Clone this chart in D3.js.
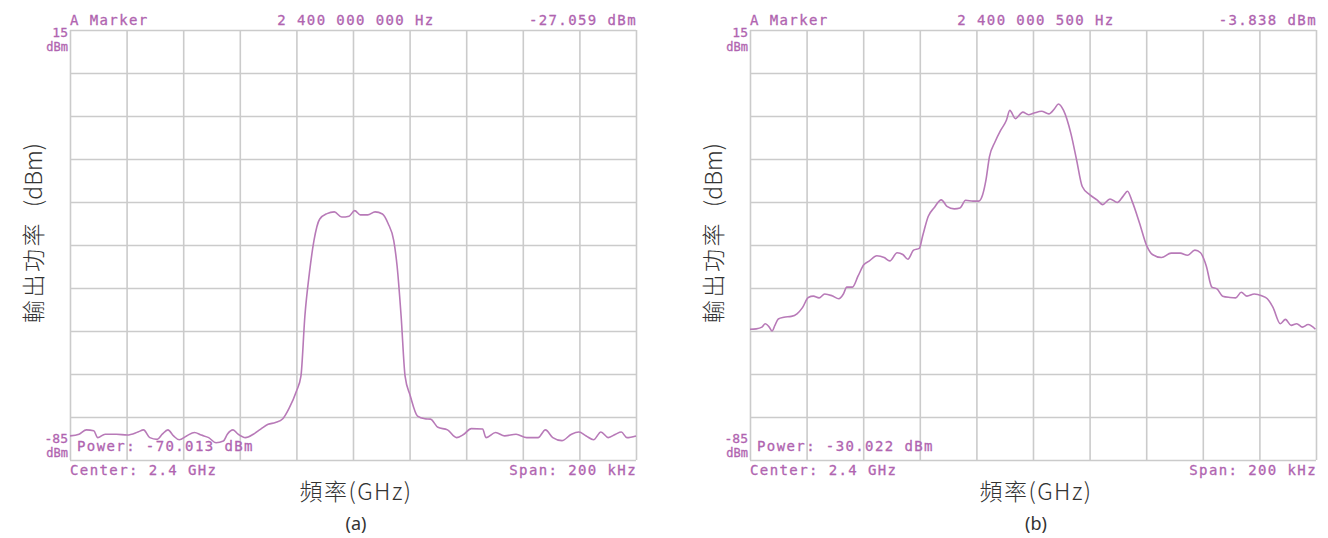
<!DOCTYPE html>
<html><head><meta charset="utf-8">
<script src="https://cdn.jsdelivr.net/npm/d3@7"></script>
<style>
html,body{margin:0;padding:0;background:#fff;}
svg{display:block;}
</style></head>
<body>
<svg id="chart" width="1328" height="538"></svg>
<script>
// ---- Data (frequency offset from 2.4 GHz in kHz, power in dBm) ----
const freqA = [-100,-96.8,-94.2,-91.6,-90.2,-87.6,-83.6,-79.8,-76,-74,-71.8,-69.2,-67.4,-65.4,-63.4,-61.4,-58.8,-56,-53.6,-51,-48.4,-45.8,-44.4,-42.4,-40.6,-38,-35.2,-32.6,-30,-27.4,-24.8,-22.6,-20,-18.4,-17,-15.4,-13.8,-11.8,-9.2,-6.6,-4,-1.4,0.6,2.6,5.2,7.8,10.4,12.4,14.4,15.6,17,18.4,20.2,22.8,25.4,27.4,30,33.4,36.6,39.2,41.8,45.8,47,50.4,53.6,57.6,61.4,65.4,68,70.6,73.8,77.2,79.8,82.4,85,87.6,90.2,92.8,94.8,96.8,100];
const powerA = [-79.4,-79,-78,-78.2,-79.8,-79,-79,-79.2,-78.5,-78,-79.8,-80.2,-79,-78,-79.4,-80.3,-79.4,-78.6,-79.2,-79.8,-81,-80.6,-79,-78,-79,-79.8,-79,-77.8,-76.7,-76.3,-75.4,-73,-69,-65.5,-51.5,-41.5,-34,-29,-27.7,-27.3,-28.5,-28.3,-27,-28,-28,-27.3,-27.8,-30,-34,-40,-51.5,-65.5,-70,-74.8,-75.4,-75.5,-77.4,-78,-79.8,-79,-77.7,-77.8,-79.8,-78.6,-79.4,-79,-79.8,-79.8,-78,-79.8,-80.5,-79,-78.5,-79.4,-80.3,-78.5,-79.8,-79,-78.5,-79.8,-79.4];

const freqB = [-100,-97.8,-95.8,-94.6,-93.2,-92.2,-91.2,-90,-88,-85.4,-83.4,-81.4,-79.4,-77.6,-75.6,-73.6,-71,-68.6,-67,-65.8,-63.8,-61.8,-59.8,-57.8,-55.2,-52.6,-50.6,-48,-46,-44.2,-42.2,-40.2,-39,-37,-35,-32.4,-30.4,-27.8,-25.8,-23.8,-21.2,-19.2,-17.8,-16.6,-15.4,-13.4,-11.4,-9.4,-8.2,-6.2,-3.6,-1.6,0.4,3,5.6,7.6,9,10.8,13.4,15.4,17.4,20,22.6,24.6,27.2,29.8,31.8,33.4,35,37.6,40.2,42.2,45.4,48.8,52,54.6,57.2,59.2,61.2,63.2,65,67,69.6,71.6,73.6,75.6,78.2,80.8,82.8,84.8,87.4,89.2,91.2,93.2,95.2,97.2,99.8];
const powerB = [-54.6,-54.5,-54.1,-53.3,-54.1,-55,-53.7,-52.2,-51.8,-51.6,-51,-49.5,-47.2,-46.9,-47.3,-46.4,-46.8,-47.5,-46.4,-44.8,-44.8,-42.2,-39.6,-38.7,-37.5,-37.9,-38.7,-36.8,-37.2,-38.3,-36.2,-35.8,-32.9,-28.3,-26.4,-24.5,-26,-26.6,-26.4,-24.6,-24.8,-24.8,-23.3,-19.8,-14.5,-11,-8.3,-6,-3.7,-5.6,-4.1,-4.7,-4.3,-3.9,-4.5,-3.3,-2.2,-3.7,-9.1,-15.2,-21.4,-23.3,-24.5,-25.6,-24.3,-25.1,-23.7,-22.5,-24.8,-29.8,-35.2,-37.2,-37.9,-36.9,-36.9,-37.4,-36.2,-36.8,-39.8,-44.8,-45.2,-46.9,-47.2,-47.3,-46,-46.9,-46.4,-46.8,-47.5,-49.5,-53.3,-52.3,-53.7,-53.3,-54.1,-53.5,-54.6];

const xTicks = [-100,-80,-60,-40,-20,0,20,40,60,80,100];
const yTicks = [15,5,-5,-15,-25,-35,-45,-55,-65,-75,-85];

const panels = [
  {left:70, freq:freqA, power:powerA, markerFreq:"2 400 000 000 Hz", markerVal:"-27.059 dBm", powerText:"Power: -70.013 dBm", label:"(a)"},
  {left:750, freq:freqB, power:powerB, markerFreq:"2 400 000 500 Hz", markerVal:"-3.838 dBm", powerText:"Power: -30.022 dBm", label:"(b)"}
];

const svg = d3.select("#chart");
const W = 566, plotTop = 30, plotBottom = 460;
const instColor = "#b064b0", traceColor = "#b87ab8", gridColor = "#cbcbcb";
const mono = "'DejaVu Sans Mono', monospace";
const cjk = "'Noto Sans CJK TC','Noto Sans CJK SC',sans-serif";

panels.forEach(p => {
  const x = d3.scaleLinear().domain([-100,100]).range([p.left, p.left + W]);
  const y = d3.scaleLinear().domain([-85,15]).range([plotBottom, plotTop]);
  const g = svg.append("g");

  g.append("g").attr("transform",`translate(0,${plotBottom})`)
    .call(d3.axisBottom(x).tickValues(xTicks).tickSize(-(plotBottom-plotTop)).tickFormat(""))
    .call(s => { s.select(".domain").remove(); s.selectAll("line").attr("stroke",gridColor).attr("stroke-width",1.6); });
  g.append("g").attr("transform",`translate(${p.left},0)`)
    .call(d3.axisLeft(y).tickValues(yTicks).tickSize(-W).tickFormat(""))
    .call(s => { s.select(".domain").remove(); s.selectAll("line").attr("stroke",gridColor).attr("stroke-width",1.6); });

  const data = p.freq.map((f,i)=>[f,p.power[i]]);
  g.append("path").datum(data)
    .attr("fill","none").attr("stroke",traceColor).attr("stroke-width",1.6)
    .attr("stroke-linejoin","round")
    .attr("d", d3.line().curve(d3.curveMonotoneX).x(d=>x(d[0])).y(d=>y(d[1])));

  const t = (txt, tx, ty, anchor, size, ls) => g.append("text")
    .attr("x",tx).attr("y",ty).attr("text-anchor",anchor)
    .attr("font-family",mono).attr("font-size",size||14)
    .attr("letter-spacing", ls===undefined ? 1.4 : ls)
    .attr("fill",instColor).attr("stroke",instColor).attr("stroke-width",0.3)
    .text(txt);

  const L = p.left, R = p.left + W, C = p.left + W/2;
  t("A Marker", L, 25, "start");
  t(p.markerFreq, C + 3, 25, "middle");
  t(p.markerVal, R + 1, 25, "end");
  t("15", L - 2, 37, "end", 13, 0);
  t("dBm", L - 2, 51, "end", 12, 0);
  t("-85", L - 2, 443, "end", 13, 0);
  t("dBm", L - 2, 457, "end", 12, 0);
  t(p.powerText, L + 7, 451, "start");
  t("Center: 2.4 GHz", L, 475, "start");
  t("Span: 200 kHz", R + 1, 475, "end");

  g.append("text").attr("x",C+3).attr("y",500).attr("text-anchor","middle")
    .attr("font-family",cjk).attr("font-size",23).attr("font-weight",300)
    .attr("letter-spacing",1.5).attr("fill","#333").text("頻率(GHz)");
  g.append("text").attr("x",C+3).attr("y",530).attr("text-anchor","middle")
    .attr("font-family","'Noto Sans',sans-serif").attr("font-size",18).attr("fill","#333").text(p.label);
  const yt = g.append("text").attr("transform",`translate(${L-38},233) rotate(-90)`)
    .attr("text-anchor","middle").attr("dominant-baseline","central")
    .attr("font-family",cjk).attr("font-size",23).attr("font-weight",300)
    .attr("fill","#333");
  yt.append("tspan").attr("letter-spacing",2.5).text("輸出功率");
  yt.append("tspan").attr("dx",14).text("(dBm)");
});
</script>
</body></html>
